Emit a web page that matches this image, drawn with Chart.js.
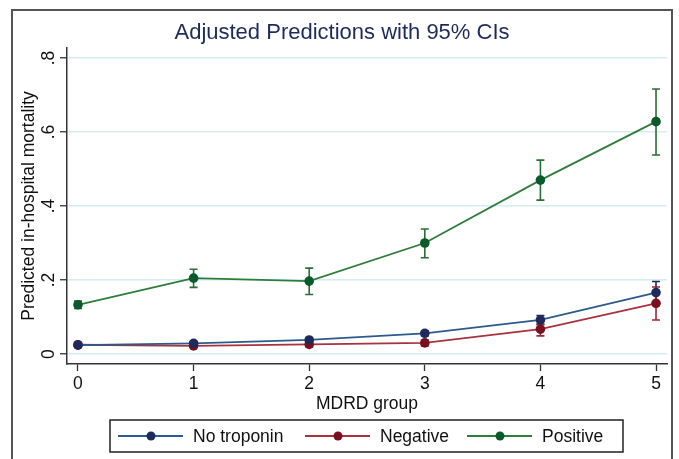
<!DOCTYPE html>
<html>
<head>
<meta charset="utf-8">
<script src="https://cdn.jsdelivr.net/npm/chart.js@4.4.1/dist/chart.umd.min.js"></script>
<style>
  html, body { margin: 0; padding: 0; background: #fff; }
  #wrap { width: 679px; height: 459px; position: relative; }
</style>
</head>
<body>
<div id="wrap"><canvas id="c" width="679" height="459"></canvas></div>
<script>
// values
const mdrdGroups = [0, 1, 2, 3, 4, 5];
const yTicks = [0, 0.2, 0.4, 0.6, 0.8];
const yTickLabels = ['0', '.2', '.4', '.6', '.8'];

const seriesNames = ['No troponin', 'Negative', 'Positive'];

const noTroponin   = [0.024, 0.029, 0.038, 0.056, 0.092, 0.166];
const noTroponinLo = [0.019, 0.024, 0.033, 0.049, 0.080, 0.138];
const noTroponinHi = [0.029, 0.034, 0.043, 0.063, 0.104, 0.196];

const negative   = [0.025, 0.022, 0.026, 0.030, 0.067, 0.137];
const negativeLo = [0.020, 0.017, 0.019, 0.022, 0.049, 0.092];
const negativeHi = [0.030, 0.027, 0.033, 0.038, 0.080, 0.181];

const positive   = [0.133, 0.205, 0.197, 0.300, 0.470, 0.628];
const positiveLo = [0.123, 0.180, 0.161, 0.260, 0.416, 0.538];
const positiveHi = [0.143, 0.229, 0.232, 0.338, 0.524, 0.716];

const lineColors   = ['#2d5a8c', '#a8323e', '#2f7d3b'];
const markerColors = ['#1f2a5c', '#7a0f1f', '#0b5a2c'];
const font = '"Liberation Sans", Arial, sans-serif';

const toPoints = vals => vals.map((v, i) => ({ x: mdrdGroups[i], y: v }));

const ciPlugin = {
    id: 'ci',
    beforeDatasetsDraw(chart) {
        const ctx = chart.ctx, xs = chart.scales.x, ys = chart.scales.y;
        chart.data.datasets.forEach(ds => {
            ctx.save();
            ctx.strokeStyle = ds.ciColor;
            ctx.lineWidth = 1.6;
            ds.lo.forEach((lo, i) => {
                const px = xs.getPixelForValue(mdrdGroups[i]);
                const p1 = ys.getPixelForValue(lo), p2 = ys.getPixelForValue(ds.hi[i]);
                ctx.beginPath();
                ctx.moveTo(px, p1); ctx.lineTo(px, p2);
                ctx.moveTo(px - 4, p1); ctx.lineTo(px + 4, p1);
                ctx.moveTo(px - 4, p2); ctx.lineTo(px + 4, p2);
                ctx.stroke();
            });
            ctx.restore();
        });
    }
};

const decorPlugin = {
    id: 'decor',
    afterDraw(chart) {
        const ctx = chart.ctx, ys = chart.scales.y, area = chart.chartArea;
        ctx.save();
        // outer frame
        ctx.strokeStyle = '#555';
        ctx.lineWidth = 2;
        ctx.strokeRect(12, 10, 660, 470);

        // title
        ctx.fillStyle = '#1c2b5a';
        ctx.font = '22px ' + font;
        ctx.textAlign = 'center';
        ctx.textBaseline = 'middle';
        ctx.fillText('Adjusted Predictions with 95% CIs', 342, 33);

        // y tick labels, rotated like Stata
        ctx.fillStyle = '#111';
        ctx.font = '17.5px ' + font;
        yTicks.forEach((t, i) => {
            ctx.save();
            ctx.translate(49, ys.getPixelForValue(t));
            ctx.rotate(-Math.PI / 2);
            ctx.fillText(yTickLabels[i], 0, 0);
            ctx.restore();
        });

        // axis titles
        ctx.save();
        ctx.translate(29, (area.top + area.bottom) / 2);
        ctx.rotate(-Math.PI / 2);
        ctx.fillText('Predicted in-hospital mortality', 0, 0);
        ctx.restore();
        ctx.fillText('MDRD group', (area.left + area.right) / 2, 404);

        // legend
        ctx.strokeStyle = '#222';
        ctx.lineWidth = 1.5;
        ctx.strokeRect(110, 420, 513, 32);
        const entries = [118, 305, 467];
        chart.data.datasets.forEach((ds, k) => {
            const x0 = entries[k], cy = 436;
            ctx.strokeStyle = ds.borderColor;
            ctx.lineWidth = 1.8;
            ctx.beginPath();
            ctx.moveTo(x0, cy); ctx.lineTo(x0 + 65, cy);
            ctx.stroke();
            ctx.fillStyle = ds.pointBackgroundColor;
            ctx.beginPath();
            ctx.arc(x0 + 33, cy, 4.5, 0, Math.PI * 2);
            ctx.fill();
            ctx.fillStyle = '#111';
            ctx.textAlign = 'left';
            ctx.fillText(ds.label, x0 + 75, cy + 1);
        });
        ctx.restore();
    }
};

const makeSet = (k, vals, lo, hi, ciColor) => ({
    label: seriesNames[k],
    data: toPoints(vals),
    lo: lo,
    hi: hi,
    ciColor: ciColor,
    borderColor: lineColors[k],
    borderWidth: 1.8,
    pointBackgroundColor: markerColors[k],
    pointBorderColor: markerColors[k],
    pointRadius: 4.8,
    pointBorderWidth: 0,
    tension: 0,
    fill: false
});

new Chart(document.getElementById('c'), {
    type: 'line',
    data: {
        datasets: [
            makeSet(0, noTroponin, noTroponinLo, noTroponinHi, '#1f2a5c'),
            makeSet(1, negative, negativeLo, negativeHi, '#9a2a35'),
            makeSet(2, positive, positiveLo, positiveHi, '#2a6e35')
        ]
    },
    options: {
        responsive: false,
        animation: false,
        layout: { padding: { top: 48, right: 12, bottom: 0, left: 0 } },
        plugins: { legend: { display: false }, tooltip: { enabled: false } },
        scales: {
            x: {
                type: 'linear',
                min: -0.095,
                max: 5.095,
                afterBuildTicks: s => { s.ticks = mdrdGroups.map(v => ({ value: v })); },
                afterFit: s => { s.height = 95; },
                grid: { drawOnChartArea: false, drawTicks: true, tickLength: 7, tickColor: '#333', tickWidth: 1.3 },
                border: { color: '#333', width: 1.5 },
                ticks: { color: '#111', font: { family: font, size: 17.5 }, padding: 3, maxRotation: 0 }
            },
            y: {
                min: -0.027,
                max: 0.827,
                afterBuildTicks: s => { s.ticks = yTicks.map(v => ({ value: v })); },
                afterFit: s => { s.width = 67; },
                grid: { color: '#d6ecef', lineWidth: 1.5, drawTicks: true, tickLength: 7, tickColor: '#333', tickWidth: 1.3 },
                border: { color: '#333', width: 1.5 },
                ticks: { display: false }
            }
        }
    },
    plugins: [ciPlugin, decorPlugin]
});
</script>
</body>
</html>
